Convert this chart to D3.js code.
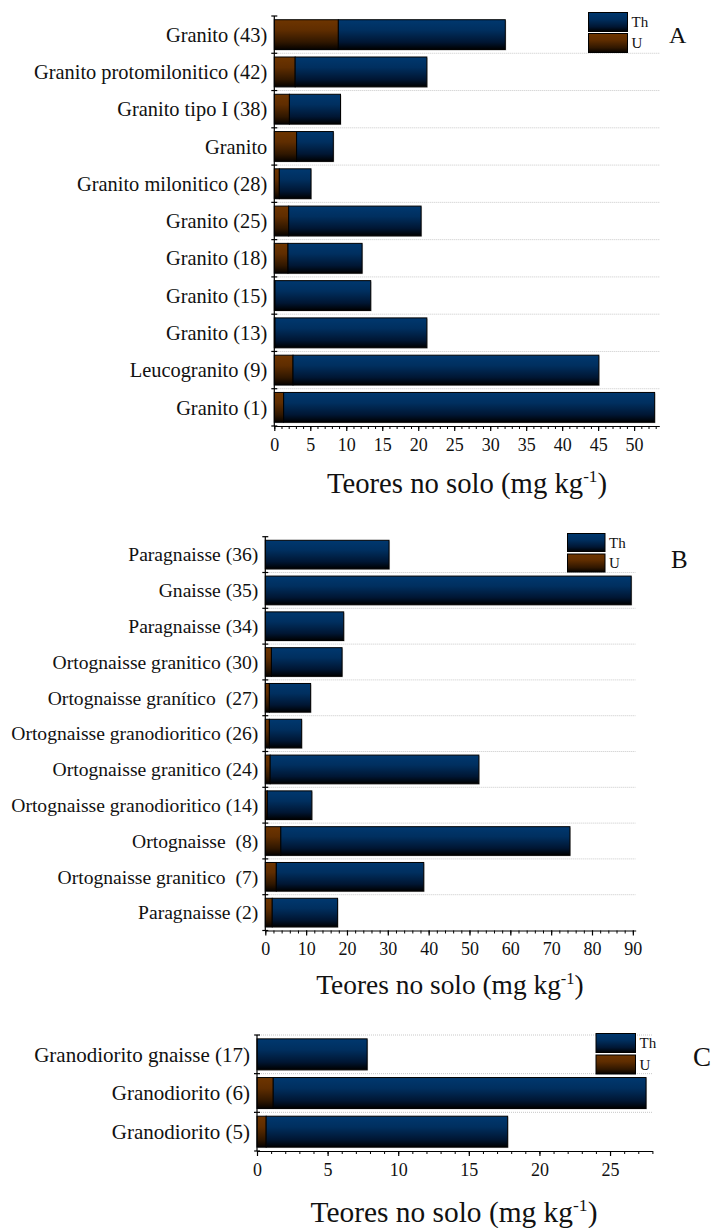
<!DOCTYPE html>
<html><head><meta charset="utf-8">
<script src="https://cdn.jsdelivr.net/npm/d3@7"></script>
<style>
html,body{margin:0;padding:0;background:#fff;}
svg{display:block;}
svg text{font-family:"Liberation Serif","Times New Roman",serif;white-space:pre;}
</style></head>
<body>
<svg id="chart" width="712" height="1228"></svg>
<script>
// ---- Data ----
const seriesNames = ["Th", "U"];

const categoriesA = ["Granito (43)", "Granito protomilonitico (42)", "Granito tipo I (38)", "Granito",
  "Granito milonitico (28)", "Granito (25)", "Granito (18)", "Granito (15)", "Granito (13)",
  "Leucogranito (9)", "Granito (1)"];
const uA  = [8.9, 2.9, 2.1, 3.1, 0.7, 2.0, 1.9, 0.1, 0.1, 2.6, 1.3];
const thA = [23.2, 18.3, 7.1, 5.1, 4.4, 18.4, 10.3, 13.3, 21.1, 42.5, 51.55];
const ticksA = [0, 5, 10, 15, 20, 25, 30, 35, 40, 45, 50];

const categoriesB = ["Paragnaisse (36)", "Gnaisse (35)", "Paragnaisse (34)", "Ortognaisse granitico (30)",
  "Ortognaisse granítico  (27)", "Ortognaisse granodioritico (26)", "Ortognaisse granitico (24)",
  "Ortognaisse granodioritico (14)", "Ortognaisse  (8)", "Ortognaisse granitico  (7)", "Paragnaisse (2)"];
const uB  = [0, 0, 0, 1.5, 1.0, 1.0, 1.2, 0.5, 3.8, 2.7, 1.7];
const thB = [30.3, 89.6, 19.2, 17.3, 10.1, 7.9, 51.1, 10.9, 70.8, 36.1, 16.0];
const ticksB = [0, 10, 20, 30, 40, 50, 60, 70, 80, 90];

const categoriesC = ["Granodiorito gnaisse (17)", "Granodiorito (6)", "Granodiorito (5)"];
const uC  = [0, 1.15, 0.65];
const thC = [7.8, 26.4, 17.1];
const ticksC = [0, 5, 10, 15, 20, 25];

const axisTitle = "Teores no solo (mg kg";
const axisTitleSup = "-1";
const panelLetters = ["A", "B", "C"];

// ---- Drawing ----
const FONT = "'Liberation Serif', 'Times New Roman', serif";
const svg = d3.select("#chart");
const defs = svg.append("defs");
function grad(id, stops) {
  const g = defs.append("linearGradient").attr("id", id)
    .attr("x1", 0).attr("y1", 0).attr("x2", 0).attr("y2", 1);
  stops.forEach(s => g.append("stop").attr("offset", s[0]).attr("stop-color", s[1]));
}
grad("gTh", [[0, "#00386f"], [0.35, "#002f5f"], [0.75, "#001633"], [1, "#000000"]]);
grad("gU",  [[0, "#6e3500"], [0.35, "#5f2d00"], [0.75, "#301700"], [1, "#050200"]]);
const fills = {Th: "url(#gTh)", U: "url(#gU)"};

function drawPanel(cfg) {
  const g = svg.append("g").attr("font-family", FONT);
  const x = d3.scaleLinear().domain([0, cfg.xMax]).range([cfg.x0, cfg.x1]);
  const y = d3.scaleBand().domain(cfg.cats).range([cfg.y0, cfg.y1])
    .paddingInner(0.2).paddingOuter(0.1);
  const step = y.step();
  const n = cfg.cats.length;

  // gridlines
  const gridIdx = d3.range(cfg.topGrid ? 0 : 1, n);
  g.selectAll(".grid").data(gridIdx).join("line")
    .attr("x1", cfg.x0).attr("x2", cfg.x1)
    .attr("y1", i => cfg.y0 + i * step).attr("y2", i => cfg.y0 + i * step)
    .attr("stroke", "#c8c8c8").attr("stroke-width", 1).attr("stroke-dasharray", "1,1");

  // stacked data
  const rows = cfg.cats.map((c, i) => ({cat: c, U: cfg.u[i], Th: cfg.th[i]}));
  const stack = d3.stack().keys(["U", "Th"])(rows);

  stack.forEach(layer => {
    g.selectAll(null).data(layer).join("rect")
      .attr("x", d => x(d[0]) + 1).attr("y", d => y(d.data.cat) + 1)
      .attr("width", d => Math.max(0, x(d[1]) - x(d[0])))
      .attr("height", y.bandwidth())
      .attr("fill", "#cfcfcf");
  });
  stack.forEach(layer => {
    g.selectAll(null).data(layer.filter(d => d[1] - d[0] > 0)).join("rect")
      .attr("x", d => x(d[0])).attr("y", d => y(d.data.cat))
      .attr("width", d => x(d[1]) - x(d[0]))
      .attr("height", y.bandwidth())
      .attr("fill", fills[layer.key])
      .attr("stroke", "#000").attr("stroke-width", 1);
  });

  // y axis line and cross ticks
  g.append("line").attr("x1", cfg.x0).attr("x2", cfg.x0).attr("y1", cfg.y0).attr("y2", cfg.y1)
    .attr("stroke", "#000").attr("stroke-width", 1.2);
  g.selectAll(".yt").data(d3.range(0, n + 1)).join("line")
    .attr("x1", cfg.x0 - 3).attr("x2", cfg.x0 + 3)
    .attr("y1", i => cfg.y0 + i * step).attr("y2", i => cfg.y0 + i * step)
    .attr("stroke", "#000").attr("stroke-width", 1.2);

  // category labels
  g.selectAll(".lab").data(cfg.cats).join("text")
    .attr("x", cfg.x0 - 7).attr("y", d => y(d) + y.bandwidth() / 2)
    .attr("dy", "0.35em").attr("text-anchor", "end").attr("font-family", FONT)
    .attr("font-size", cfg.labelSize).attr("fill", "#111").text(d => d);

  // x axis: minor + major
  const minor = d3.range(0, cfg.xMax + 1e-9, cfg.minorStep);
  g.append("g").attr("transform", `translate(0,${cfg.y1})`)
    .call(d3.axisBottom(x).tickValues(minor).tickSize(3).tickSizeOuter(0).tickFormat(""))
    .call(a => a.select(".domain").attr("stroke-width", 1.2))
    .call(a => a.selectAll("line").attr("stroke-width", 1));
  g.append("g").attr("transform", `translate(0,${cfg.y1})`)
    .call(d3.axisBottom(x).tickValues(cfg.ticks).tickSize(5).tickSizeOuter(0).tickPadding(7))
    .attr("font-family", FONT)
    .call(a => a.select(".domain").remove())
    .call(a => a.selectAll("line").attr("stroke-width", 1.2))
    .call(a => a.selectAll("text").attr("font-size", 18)
      .attr("font-family", FONT).attr("fill", "#111"));

  // axis title
  const t = g.append("text").attr("x", cfg.titleX).attr("y", cfg.titleY).attr("font-family", FONT)
    .attr("text-anchor", "middle").attr("font-size", cfg.titleSize).attr("fill", "#111");
  t.append("tspan").text(axisTitle);
  t.append("tspan").attr("font-size", cfg.titleSize * 0.6).attr("dy", -cfg.titleSize * 0.38).text(axisTitleSup);
  t.append("tspan").attr("dy", cfg.titleSize * 0.38).text(")");

  // legend
  const lg = g.append("g");
  if (cfg.legClip) {
    const cid = "clip" + cfg.letter;
    defs.append("clipPath").attr("id", cid).append("rect")
      .attr("x", cfg.legX - 5).attr("y", cfg.legY - 5).attr("width", cfg.legClip - cfg.legX + 5).attr("height", 60);
    lg.attr("clip-path", `url(#${cid})`);
  }
  seriesNames.forEach((s, i) => {
    lg.append("rect").attr("x", cfg.legX).attr("y", cfg.legY + i * cfg.legStep)
      .attr("width", cfg.legW).attr("height", cfg.legH)
      .attr("fill", fills[s]).attr("stroke", "#000").attr("stroke-width", 1);
    lg.append("text").attr("x", cfg.legX + cfg.legW + 4).attr("font-family", FONT)
      .attr("y", cfg.legY + i * cfg.legStep + cfg.legH / 2).attr("dy", "0.35em")
      .attr("font-size", 15).attr("fill", "#111").text(s);
  });

  g.append("text").attr("x", cfg.letterX).attr("y", cfg.letterY).attr("font-family", FONT)
    .attr("font-size", cfg.letterSize).attr("fill", "#111").text(cfg.letter);
}

drawPanel({cats: categoriesA, u: uA, th: thA, ticks: ticksA, minorStep: 1, xMax: 53.5,
  x0: 274.3, x1: 659.3, y0: 16, y1: 426, topGrid: false, labelSize: 20.4,
  titleX: 467, titleY: 493, titleSize: 28.7,
  legX: 588.5, legY: 12.5, legW: 39, legH: 19, legStep: 21, letter: panelLetters[0],
  letterX: 669, letterY: 43, letterSize: 24});

drawPanel({cats: categoriesB, u: uB, th: thB, ticks: ticksB, minorStep: 2, xMax: 90.7,
  x0: 265.3, x1: 635.7, y0: 536.7, y1: 930.5, topGrid: false, labelSize: 19.6,
  titleX: 450, titleY: 994, titleSize: 27.4,
  legX: 567.5, legY: 533.5, legW: 37.5, legH: 18, legStep: 20.5, letter: panelLetters[1],
  letterX: 671, letterY: 568, letterSize: 25});

drawPanel({cats: categoriesC, u: uC, th: thC, ticks: ticksC, minorStep: 1, xMax: 28,
  x0: 257, x1: 652.4, y0: 1035, y1: 1151, topGrid: true, labelSize: 21,
  titleX: 454, titleY: 1222, titleSize: 29.4, legClip: 657,
  legX: 596, legY: 1033.5, legW: 39.5, legH: 19, legStep: 21.5, letter: panelLetters[2],
  letterX: 693, letterY: 1066, letterSize: 27});
</script>
</body></html>
